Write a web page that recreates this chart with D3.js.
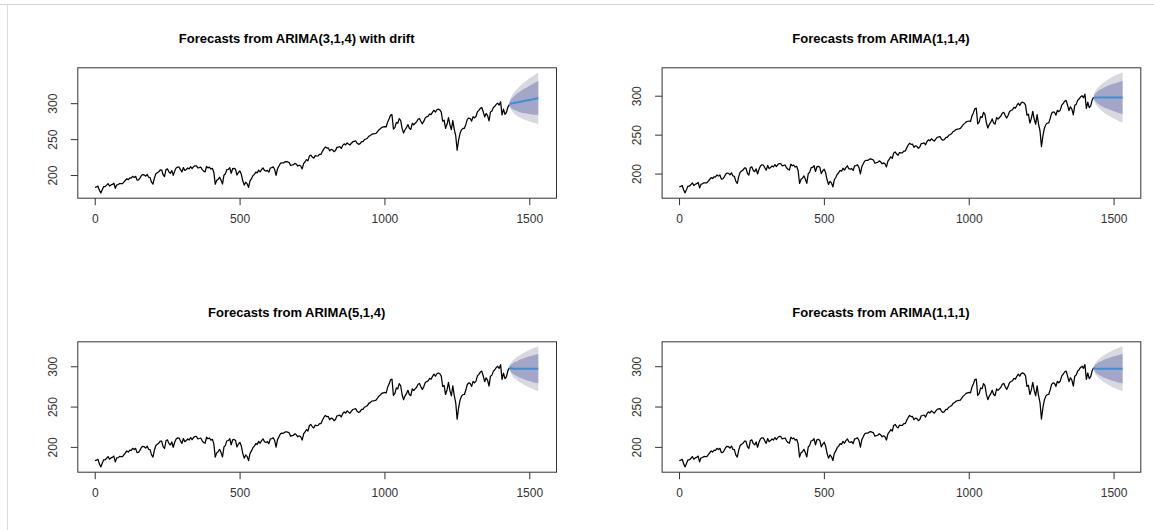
<!DOCTYPE html>
<html><head><meta charset="utf-8">
<script src="https://cdn.jsdelivr.net/npm/d3@7"></script>
<style>body{margin:0;background:#fff;} svg{display:block;}</style>
</head><body>
<svg id="c" width="1154" height="530"></svg>
<script>
// ---------- data ----------
const obsStart = 1, obsStep = 5;
const observed = [
182.9,183.5,184.6,178.9, 175.2,179.7,184.0,183.9, 185.9,188.0,184.7,186.3, 187.0,188.6,181.5,186.4,186.8,
188.1,187.9,188.0,190.4, 192.7,194.9,193.5,195.9, 195.8,198.2,196.7,198.2, 193.0,193.2,195.7,199.2,200.7,
200.2,198.4,201.0,197.0, 196.5,190.0,187.4,196.0, 201.7,203.2,204.5,207.2, 207.0,200.4,198.0,207.5,208.7,
204.3,202.4,206.1,199.5, 205.6,209.8,211.2,211.0, 207.5,204.4,210.4,206.4, 207.8,209.8,208.5,211.6,
209.0,211.6,212.9,212.9, 210.0,210.4,211.0,207.5,205.4, 204.5,212.0,210.0,211.0, 208.4,209.4,204.0,187.3,
192.6,194.0,197.0,192.9, 187.5,199.8,201.8,207.5,207.9, 210.2,202.5,208.8,209.3, 208.0,200.0,203.5,205.7,
201.0,192.0,186.0,190.0, 188.0,182.9,192.0,195.0, 199.0,201.0,204.0,203.1, 206.9,204.5,207.7,210.0,206.3,
205.5,206.5,204.0,209.8, 210.3,211.3,208.0,199.6, 209.0,212.6,216.2,217.1, 216.9,218.2,218.8,218.3,217.4,
213.3,214.0,214.4,216.3, 215.0,212.5,213.7,212.5, 208.5,216.0,218.5,221.5, 219.7,226.5,227.8,225.0,223.5,
227.0,226.5,226.7,228.9, 228.9,233.0,236.5, 239.0,237.5,237.7,233.7,235.7, 235.0,232.5,234.0,238.5,
238.9,239.5,237.0,241.2, 243.4,242.0,244.7,243.1,241.8, 244.3,246.4,247.0, 247.4,244.1,242.7,243.7,246.6,
246.6,249.2,250.1,251.2, 254.0,254.9,256.6,257.2, 257.5,258.0,260.4,262.9,264.5, 266.3,267.0,267.5,266.9,
273.9,277.9,283.3,284.0, 263.9,266.0,273.1,272.0, 278.5,276.0,265.0,258.5, 263.0,266.0,270.2,265.0,
263.5,272.0,270.0,272.0, 274.0,277.7,278.7,274.5,271.3, 275.0,279.8,281.0,282.0, 285.0,284.0,287.5,290.3,
287.6,290.8,291.7,290.7, 288.0,275.0,276.3,265.0,270.6, 280.0,270.0,263.3,275.6, 263.6,255.0,234.5,
248.5,258.0,262.9,264.8,265.0, 270.5,277.4,279.3,278.7, 275.0,281.3,279.5,281.5, 288.0,290.0,292.8,294.0,
288.0,280.9,285.7,282.8, 275.3,287.7,289.0,294.0, 295.7,298.5,300.0,297.4,302.0, 283.8,291.6,284.6,287.0,
294.3,298.0
];

const fcH = [1,2,3,5,10,20,30,40,50,60,70,80,90,100];

const titles = [
  "Forecasts from ARIMA(3,1,4) with drift",
  "Forecasts from ARIMA(1,1,4)",
  "Forecasts from ARIMA(5,1,4)",
  "Forecasts from ARIMA(1,1,1)"
];

const meanA = [298.9,299.0,299.1,299.3,299.7,300.5,301.3,302.1,302.9,303.7,304.5,305.3,306.2,307.2];
const hw80A = [2.4,3.3,4.1,5.2,7.5,10.5,12.9,14.9,16.7,18.2,19.7,21.1,22.4,23.5];
const hw95A = [3.6,5.1,6.2,8.0,11.4,16.1,19.7,22.8,25.5,27.9,30.1,32.2,34.2,36.0];

const meanB = [297.9,297.8,297.8,297.8,297.8,297.8,297.8,297.8,297.8,297.8,297.8,297.8,297.8,297.8];
const hw80B = [2.2,3.0,3.7,4.7,6.7,9.5,11.6,13.5,15.0,16.5,17.8,19.0,20.2,21.3];
const hw95B = [3.3,4.6,5.6,7.2,10.3,14.5,17.8,20.6,23.0,25.2,27.2,29.1,30.9,32.5];

const meanC = [299.0,298.8,298.3,297.6,297.2,297.0,297.0,297.0,297.0,297.0,297.0,297.0,297.0,297.0];
const hw80C = [1.8,2.6,3.1,4.1,5.8,8.2,10.0,11.6,13.0,14.2,15.3,16.4,17.4,18.3];
const hw95C = [2.8,4.0,4.8,6.2,8.9,12.5,15.3,17.7,19.8,21.7,23.4,25.0,26.6,28.0];

const meanD = [298.5,297.9,297.5,297.2,297.0,296.9,296.9,296.9,296.9,296.9,296.9,296.9,296.9,296.9];
const hw80D = [1.8,2.6,3.1,4.1,5.8,8.2,10.0,11.6,13.0,14.2,15.3,16.4,17.4,18.3];
const hw95D = [2.8,4.0,4.8,6.2,8.9,12.5,15.3,17.7,19.8,21.7,23.4,25.0,26.6,28.0];

const xTicks = [0, 500, 1000, 1500];
const yTicks = [200, 250, 300];

// ---------- layout / style ----------
const panels = [
  {title: titles[0], mean: meanA, hw80: hw80A, hw95: hw95A, col: 0, row: 0},
  {title: titles[1], mean: meanB, hw80: hw80B, hw95: hw95B, col: 1, row: 0},
  {title: titles[2], mean: meanC, hw80: hw80C, hw95: hw95C, col: 0, row: 1},
  {title: titles[3], mean: meanD, hw80: hw80D, hw95: hw95D, col: 1, row: 1}
];
const L0 = 77.3, T0 = 67.3, W = 478.7, H = 130.4, DX = 584.3, DY = 274;
const TITLE_SHIFT = -20;
const FONT = "'Liberation Sans', Arial, Helvetica, sans-serif";
const col95 = "#D8D8E0", col80 = "#A3A6C7", colMean = "#3A8FDC";

const svg = d3.select("#c");
svg.append("line").attr("x1",0).attr("x2",1154).attr("y1",4.5).attr("y2",4.5)
  .attr("stroke","#d4d4d4").attr("stroke-width",1);
svg.append("line").attr("x1",7.5).attr("x2",7.5).attr("y1",5).attr("y2",530)
  .attr("stroke","#dedede").attr("stroke-width",1);

const obs = observed.map((v,i)=>({t: obsStart + i*obsStep, v}));
const lastT = obs[obs.length-1].t;

panels.forEach(p => {
  const left = L0 + p.col*DX, top = T0 + p.row*DY;
  const fc = fcH.map((h,i)=>({t: lastT + h, m: p.mean[i],
    lo80: p.mean[i]-p.hw80[i], hi80: p.mean[i]+p.hw80[i],
    lo95: p.mean[i]-p.hw95[i], hi95: p.mean[i]+p.hw95[i]}));
  const xmin = obs[0].t, xmax = fc[fc.length-1].t;
  const ymin = Math.min(d3.min(obs,d=>d.v), d3.min(fc,d=>d.lo95));
  const ymax = Math.max(d3.max(obs,d=>d.v), d3.max(fc,d=>d.hi95));
  const px = (xmax-xmin)*0.04, py = (ymax-ymin)*0.04;
  const x = d3.scaleLinear().domain([xmin-px, xmax+px]).range([0, W]);
  const y = d3.scaleLinear().domain([ymin-py, ymax+py]).range([H, 0]);

  const g = svg.append("g").attr("transform", `translate(${left},${top})`);

  g.append("path").datum(fc)
    .attr("d", d3.area().x(d=>x(d.t)).y0(d=>y(d.lo95)).y1(d=>y(d.hi95)).curve(d3.curveMonotoneX))
    .attr("fill", col95);
  g.append("path").datum(fc)
    .attr("d", d3.area().x(d=>x(d.t)).y0(d=>y(d.lo80)).y1(d=>y(d.hi80)).curve(d3.curveMonotoneX))
    .attr("fill", col80);

  g.append("path").datum(obs)
    .attr("d", d3.line().x(d=>x(d.t)).y(d=>y(d.v)))
    .attr("fill","none").attr("stroke","#000").attr("stroke-width",1.25).attr("stroke-linejoin","round");

  g.append("path").datum(fc)
    .attr("d", d3.line().x(d=>x(d.t)).y(d=>y(d.m)).curve(d3.curveMonotoneX))
    .attr("fill","none").attr("stroke",colMean).attr("stroke-width",2);

  g.append("rect").attr("x",0.5).attr("y",0.5).attr("width",W).attr("height",H)
    .attr("fill","none").attr("stroke","#333").attr("stroke-width",1);

  const xa = g.append("g").attr("transform",`translate(0,${H+0.5})`)
    .call(d3.axisBottom(x).tickValues(xTicks).tickSize(7).tickPadding(9).tickFormat(d3.format("d")));
  xa.select(".domain").remove();
  xa.selectAll("line").attr("stroke","#333");
  xa.selectAll("text").attr("font-family",FONT).attr("font-size",12).attr("fill","#333");

  const ya = g.append("g").attr("transform","translate(0.5,0)")
    .call(d3.axisLeft(y).tickValues(yTicks).tickSize(7).tickFormat(d3.format("d")));
  ya.select(".domain").remove();
  ya.selectAll("line").attr("stroke","#333");
  ya.selectAll("text").attr("font-family",FONT).attr("font-size",12).attr("fill","#333")
    .attr("transform","rotate(-90)").attr("x",0).attr("y",-21).attr("dy",0)
    .attr("text-anchor","middle");

  svg.append("text").attr("x", left + W/2 + TITLE_SHIFT).attr("y", top - 24)
    .attr("text-anchor","middle").attr("font-family",FONT).attr("font-weight","bold")
    .attr("font-size",13).attr("fill","#000").text(p.title);
});
</script>
</body></html>
